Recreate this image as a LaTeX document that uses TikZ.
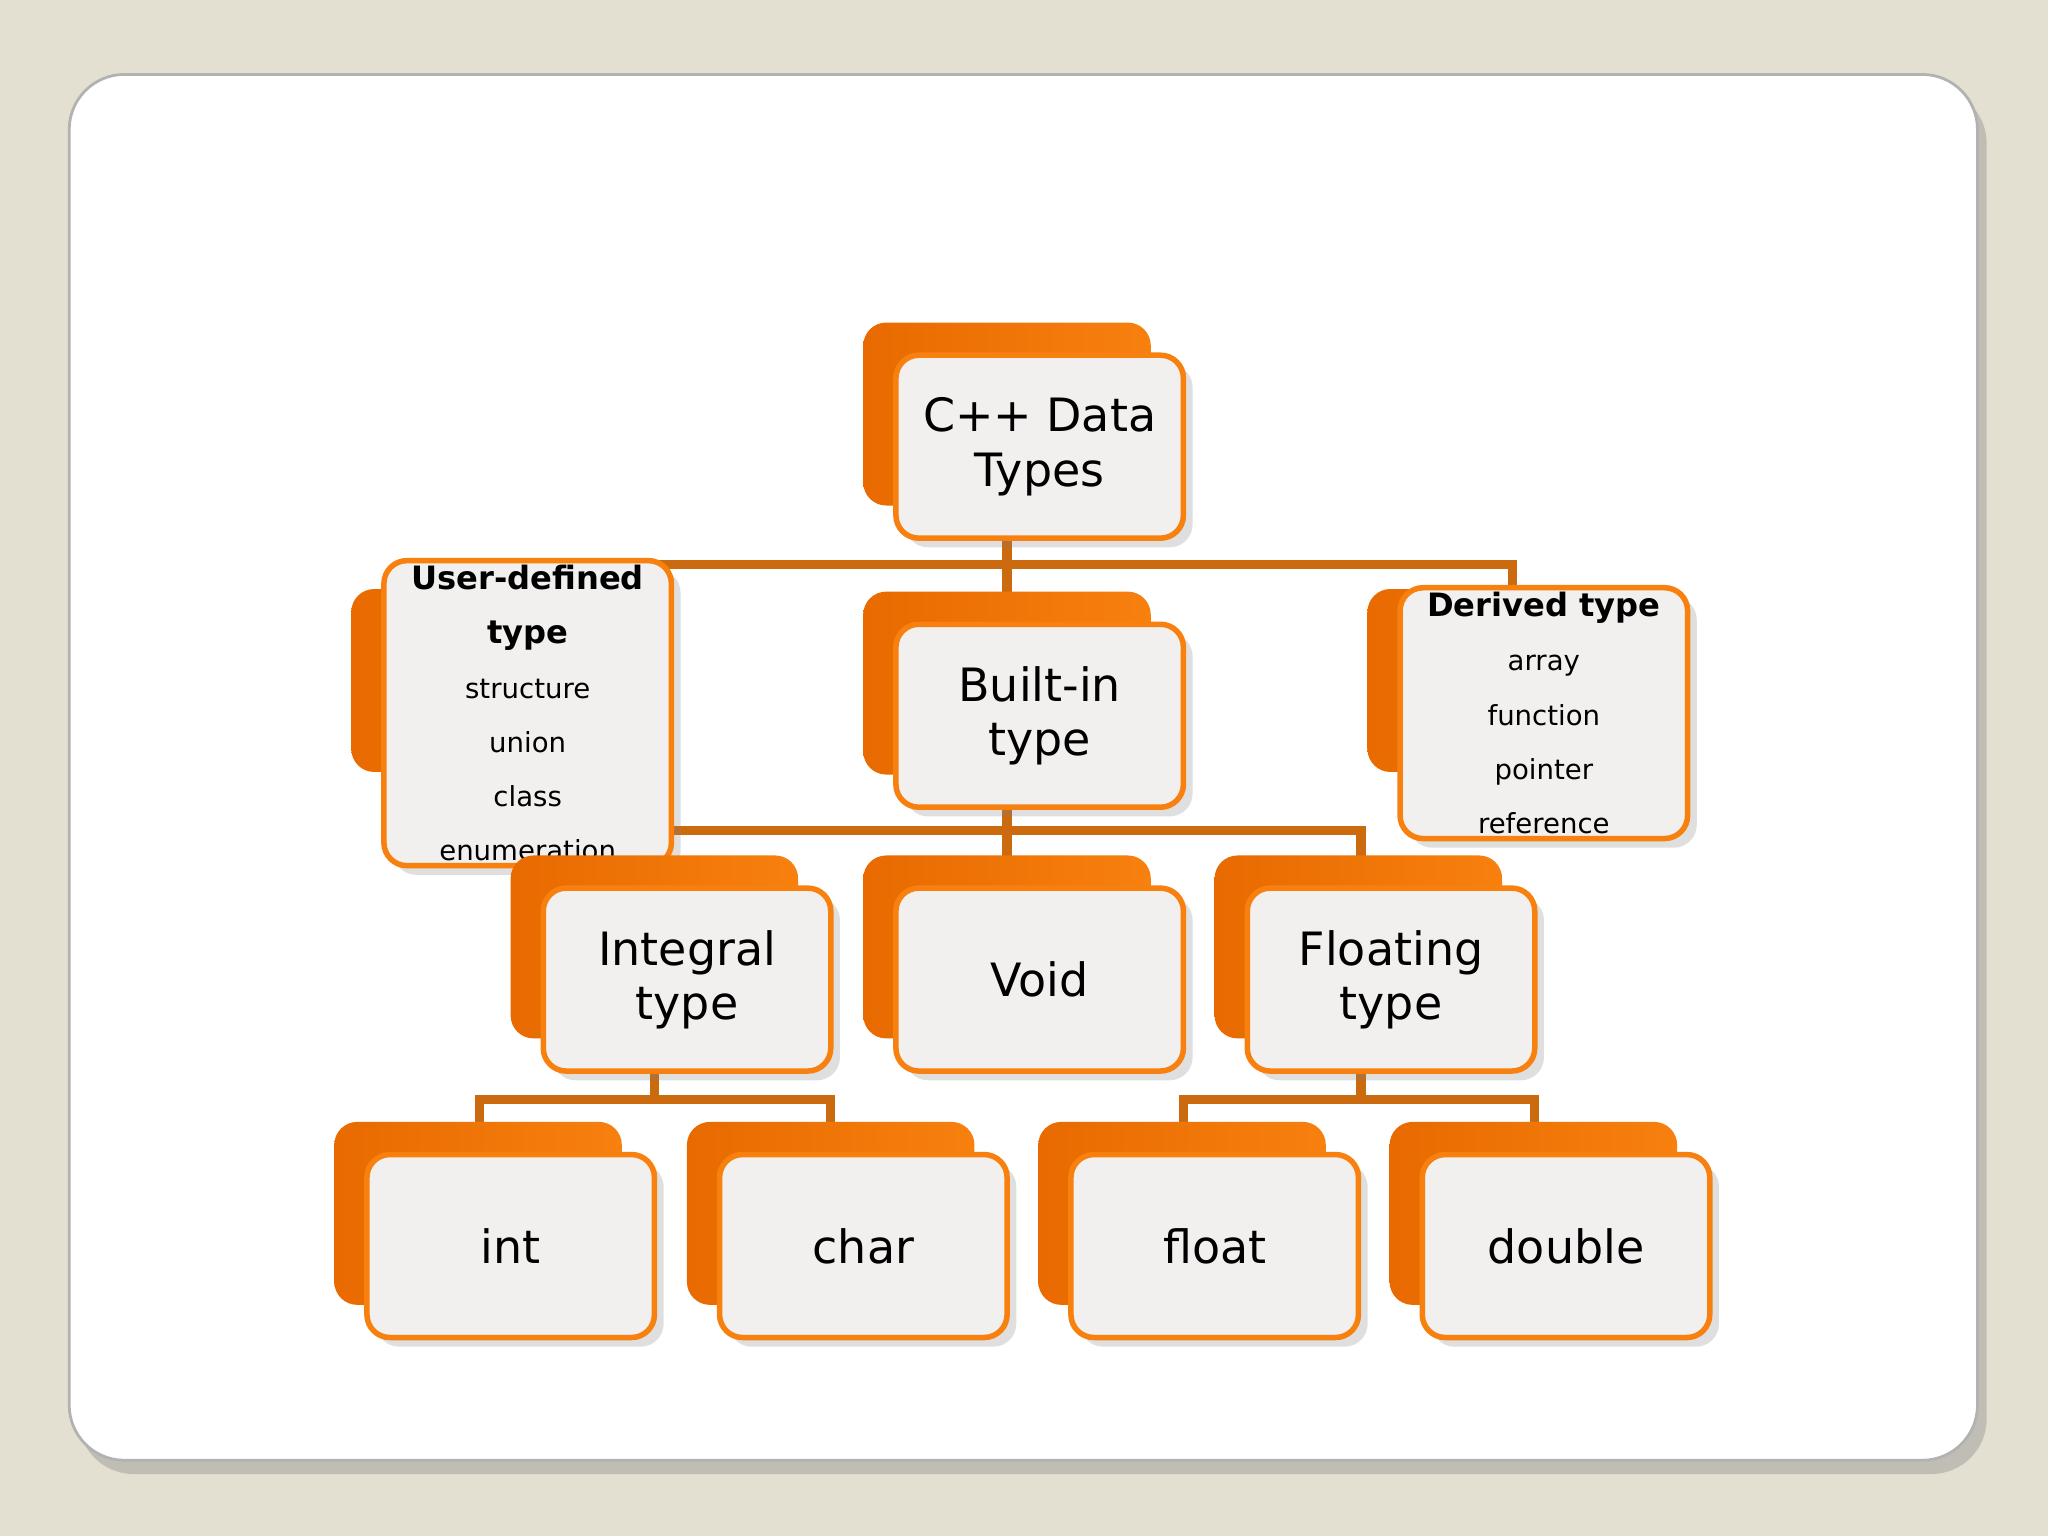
\documentclass[tikz,border=0pt]{standalone}
\usepackage{fontspec}
\setmainfont{DejaVu Sans}
\usetikzlibrary{shadows}
\definecolor{bg}{HTML}{E3DFD1}
\definecolor{org}{HTML}{F7800F}
\definecolor{orgd}{HTML}{E86A00}
\definecolor{lin}{HTML}{CC6A10}
\definecolor{frontc}{HTML}{F2F0EF}
\tikzset{
 backbox/.style={rounded corners=5pt, left color=orgd, right color=org, draw=none, minimum width=2.2cm, minimum height=1.4cm, inner sep=0pt},
 frontbox/.style={rounded corners=5pt, fill=frontc, draw=org, line width=1.2pt, minimum width=2.2cm, minimum height=1.4cm, inner sep=1pt, align=center, font=\fontsize{10}{11.8}\selectfont, drop shadow={shadow xshift=2pt, shadow yshift=-2pt, opacity=0.25}},
 conn/.style={draw=lin, line width=2pt},
}
\newcommand{\hdf}{\fontsize{7}{8}\selectfont\bfseries}
\newcommand{\smf}{\fontsize{6}{6.9}\selectfont\mdseries}
\begin{document}
\begin{tikzpicture}[x=0.01cm,y=-0.01cm]
\fill[bg] (0,0) rectangle (1568,1176);
\fill[white, rounded corners=12pt, drop shadow={shadow xshift=2pt, shadow yshift=-3pt, opacity=0.35}] (53,57) rectangle (1514,1118);
\draw[gray!60, rounded corners=12pt, line width=0.6pt] (53,57) rectangle (1514,1118);
% connectors
\draw[conn] (771,387) -- (771,432) coordinate (bus1);
\draw[conn] (378,452) |- (bus1) -| (1158,452);
\draw[conn] (bus1) -- (771,455);
\draw[conn] (771,593) -- (771,636) coordinate (bus2);
\draw[conn] (501,657) |- (bus2) -| (1042,657);
\draw[conn] (bus2) -- (771,657);
\draw[conn] (501,795) -- (501,842) coordinate (bus3);
\draw[conn] (367,862) |- (bus3) -| (636,862);
\draw[conn] (1042,795) -- (1042,842) coordinate (bus4);
\draw[conn] (906,862) |- (bus4) -| (1175,862);
% boxes
\node[backbox] (topB) at (771,317) {};
\node[frontbox] (top) at (796,342) {C++ Data\\Types};
\node[backbox] (userB) at (379,521) {};
\node[frontbox] (user) at (404,546) {\hdf User-defined\\\hdf type\\\smf structure\\\smf union\\\smf class\\\smf enumeration};
\node[backbox] (builtB) at (771,523) {};
\node[frontbox] (built) at (796,548) {Built-in\\type};
\node[backbox] (derB) at (1157,521) {};
\node[frontbox] (der) at (1182,546) {\hdf Derived type\\\smf array\\\smf function\\\smf pointer\\\smf reference};
\node[backbox] (integralB) at (501,725) {};
\node[frontbox] (integral) at (526,750) {Integral\\type};
\node[backbox] (voidB) at (771,725) {};
\node[frontbox] (void) at (796,750) {Void};
\node[backbox] (floatB) at (1040,725) {};
\node[frontbox] (float) at (1065,750) {Floating\\type};
\node[backbox] (intB) at (366,929) {};
\node[frontbox] (int) at (391,954) {int};
\node[backbox] (charB) at (636,929) {};
\node[frontbox] (char) at (661,954) {char};
\node[backbox] (fltB) at (905,929) {};
\node[frontbox] (flt) at (930,954) {float};
\node[backbox] (dblB) at (1174,929) {};
\node[frontbox] (dbl) at (1199,954) {double};
\end{tikzpicture}
\end{document}
